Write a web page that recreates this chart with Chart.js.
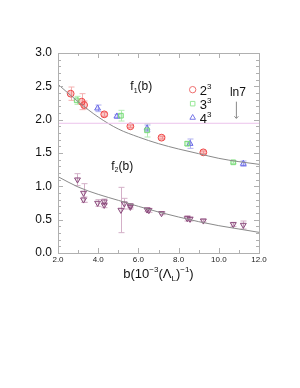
<!DOCTYPE html>
<html>
<head>
<meta charset="utf-8">
<script src="https://cdn.jsdelivr.net/npm/chart.js@4"></script>
<style>
  html, body { margin: 0; padding: 0; background: #fff; }
  #wrap { width: 300px; height: 388px; }
</style>
</head>
<body>
<div id="wrap"><canvas id="chart" width="300" height="388"></canvas></div>
<script>
// f1(b) data, by lattice size
const red_b   = [2.63, 3.18, 3.30, 4.30, 5.60, 7.15, 9.23];
const red_f1  = [2.39, 2.27, 2.22, 2.08, 1.90, 1.73, 1.51];
const red_err = [0.10, 0.12, 0.06, 0.03, 0.02, 0.02, 0.02];

const green_b   = [2.93, 5.13, 6.43, 8.43, 10.72];
const green_f1  = [2.29, 2.06, 1.84, 1.64, 1.36];
const green_err = [0.06, 0.08, 0.10, 0.03, 0.02];

const blue_b   = [3.97, 4.93, 6.43, 8.57, 11.22];
const blue_f1  = [2.17, 2.05, 1.87, 1.64, 1.34];
const blue_err = [0.05, 0.03, 0.05, 0.07, 0.04];

// f2(b) data
const f2_b   = [2.97, 3.27, 3.27, 3.97, 4.30, 4.30, 5.13, 5.30, 5.60, 5.60, 6.43, 6.52, 7.15, 8.43, 8.57, 9.23, 10.72, 11.22];
const f2_val = [1.10, 0.90, 0.80, 0.75, 0.77, 0.72, 0.645, 0.74, 0.71, 0.69, 0.65, 0.64, 0.595, 0.52, 0.51, 0.485, 0.43, 0.42];
const f2_err = [0.09, 0.14, 0.04, 0.05, 0.04, 0.04, 0.34, 0.08, 0.03, 0.03, 0.03, 0.03, 0.02, 0.04, 0.03, 0.02, 0.03, 0.06];

// fitted curves
const fit_b  = [2, 3, 4, 5, 6, 7, 8, 9, 10, 11, 12];
const fit_f1 = [2.53, 2.27, 2.04, 1.86, 1.74, 1.64, 1.56, 1.49, 1.42, 1.37, 1.33];
const fit_f2 = [1.145, 0.99, 0.88, 0.79, 0.70, 0.615, 0.54, 0.47, 0.41, 0.36, 0.31];

const LN7 = 1.946;
const xTicks = [2, 4, 6, 8, 10, 12];
const yTicks = [0, 0.5, 1.0, 1.5, 2.0, 2.5, 3.0];

const FONT = '"Liberation Sans", Arial, Helvetica, sans-serif';

function pts(xs, ys, errs) {
    return xs.map((x, i) => ({ x: x, y: ys[i], e: errs ? errs[i] : 0 }));
}

function pointSet(label, xs, ys, errs, style, color, fill, errColor, rot) {
    return {
        type: 'scatter',
        label: label,
        data: pts(xs, ys, errs),
        pointStyle: style,
        rotation: rot || 0,
        pointRadius: style === 'rect' ? 3.3 : 3.4,
        borderColor: color,
        backgroundColor: fill,
        pointBorderWidth: 1,
        errColor: errColor,
        showLine: false
    };
}

// error bars, drawn under the markers
const errorBars = {
    id: 'errorBars',
    beforeDatasetsDraw(chart) {
        const ctx = chart.ctx;
        const xs = chart.scales.x, ys = chart.scales.y;
        chart.data.datasets.forEach(ds => {
            if (!ds.errColor) return;
            ctx.save();
            ctx.strokeStyle = ds.errColor;
            ctx.lineWidth = 1;
            ds.data.forEach(p => {
                if (!p.e) return;
                const px = Math.round(xs.getPixelForValue(p.x)) + 0.5;
                const top = ys.getPixelForValue(p.y + p.e);
                const bot = ys.getPixelForValue(p.y - p.e);
                ctx.beginPath();
                ctx.moveTo(px, top); ctx.lineTo(px, bot);
                ctx.moveTo(px - 3, top); ctx.lineTo(px + 3, top);
                ctx.moveTo(px - 3, bot); ctx.lineTo(px + 3, bot);
                ctx.stroke();
            });
            ctx.restore();
        });
    }
};

function textWithScripts(ctx, parts, x, y, size, align) {
    // parts: [text, kind] kind: '' normal, 'sup', 'sub'
    const small = Math.round(size * 0.62);
    let total = 0;
    parts.forEach(p => {
        ctx.font = (p[1] ? small : size) + 'px ' + FONT;
        total += ctx.measureText(p[0]).width;
    });
    let cx = align === 'center' ? x - total / 2 : x;
    ctx.textAlign = 'left';
    ctx.textBaseline = 'alphabetic';
    parts.forEach(p => {
        ctx.font = (p[1] ? small : size) + 'px ' + FONT;
        let dy = 0;
        if (p[1] === 'sup') dy = -size * 0.45;
        if (p[1] === 'sub') dy = size * 0.22;
        ctx.fillText(p[0], cx, y + dy);
        cx += ctx.measureText(p[0]).width;
    });
}

const decorations = {
    id: 'decorations',
    beforeDraw(chart) {
        const ctx = chart.ctx;
        ctx.save();
        ctx.fillStyle = '#fff';
        ctx.fillRect(0, 0, chart.width, chart.height);
        ctx.restore();
    },
    afterDraw(chart) {
        const ctx = chart.ctx;
        const a = chart.chartArea;
        const xs = chart.scales.x, ys = chart.scales.y;
        ctx.save();

        // frame
        ctx.strokeStyle = '#b0b0b0';
        ctx.lineWidth = 1;
        ctx.strokeRect(a.left + 0.5, a.top + 0.5, a.right - a.left, a.bottom - a.top);

        // inward ticks
        ctx.beginPath();
        for (let v = 2; v <= 12; v += 1) {
            const px = Math.round(xs.getPixelForValue(v)) + 0.5;
            const len = v % 2 === 0 ? 5 : 3;
            ctx.moveTo(px, a.bottom); ctx.lineTo(px, a.bottom - len);
            ctx.moveTo(px, a.top); ctx.lineTo(px, a.top + len);
        }
        for (let i = 0; i <= 30; i++) {
            const v = i / 10;
            const py = Math.round(ys.getPixelForValue(v)) + 0.5;
            const len = i % 5 === 0 ? 5 : 3;
            ctx.moveTo(a.left, py); ctx.lineTo(a.left + len, py);
            ctx.moveTo(a.right, py); ctx.lineTo(a.right - len, py);
        }
        ctx.stroke();

        ctx.fillStyle = '#111';
        // curve labels
        textWithScripts(ctx, [['f', ''], ['1', 'sub'], ['(b)', '']], xs.getPixelForValue(5.6), ys.getPixelForValue(2.44), 12, 'left');
        textWithScripts(ctx, [['f', ''], ['2', 'sub'], ['(b)', '']], xs.getPixelForValue(4.65), ys.getPixelForValue(1.25), 12, 'left');

        // legend
        const lx = xs.getPixelForValue(8.7);
        const legend = [
            ['2', 'circle', '#f07070', 2.45],
            ['3', 'rect', '#98e898', 2.24],
            ['4', 'triangle', '#7878e8', 2.03]
        ];
        legend.forEach(l => {
            const ly = ys.getPixelForValue(l[3]);
            ctx.save();
            ctx.strokeStyle = l[2];
            ctx.fillStyle = 'rgba(0,0,0,0)';
            ctx.lineWidth = 1;
            Chart.helpers.drawPoint(ctx, { pointStyle: l[1], radius: 3.2, rotation: 0, borderWidth: 1 }, lx, ly);
            ctx.restore();
            ctx.fillStyle = '#111';
            textWithScripts(ctx, [[l[0], ''], ['3', 'sup']], lx + 7, ly + 5, 13, 'left');
        });

        // ln7 marker
        const ax = xs.getPixelForValue(10.85);
        ctx.fillStyle = '#111';
        ctx.font = '12px ' + FONT;
        ctx.textAlign = 'center';
        ctx.textBaseline = 'alphabetic';
        ctx.fillText('ln7', ax + 2, ys.getPixelForValue(2.36));
        ctx.strokeStyle = '#888';
        ctx.beginPath();
        ctx.moveTo(ax + 0.5, ys.getPixelForValue(2.27));
        ctx.lineTo(ax + 0.5, ys.getPixelForValue(2.02));
        ctx.stroke();
        ctx.beginPath();
        ctx.moveTo(ax - 1.5, ys.getPixelForValue(2.05));
        ctx.lineTo(ax + 0.5, ys.getPixelForValue(2.02));
        ctx.lineTo(ax + 2.5, ys.getPixelForValue(2.05));
        ctx.stroke();

        // x axis title
        ctx.fillStyle = '#111';
        textWithScripts(ctx, [['b(10', ''], ['\u22123', 'sup'], ['(\u039B', ''], ['L', 'sub'], [')', ''], ['\u22121', 'sup'], [')', '']],
            (a.left + a.right) / 2, a.bottom + 25, 13, 'center');

        ctx.restore();
    }
};

const datasets = [
    {
        type: 'line', label: 'ln7',
        data: [{ x: 2, y: LN7 }, { x: 12, y: LN7 }],
        borderColor: '#ecc4ec', borderWidth: 1, pointRadius: 0
    },
    {
        type: 'line', label: 'fit f1',
        data: pts(fit_b, fit_f1),
        borderColor: '#8a8a8a', borderWidth: 1, pointRadius: 0,
        cubicInterpolationMode: 'monotone'
    },
    {
        type: 'line', label: 'fit f2',
        data: pts(fit_b, fit_f2),
        borderColor: '#8a8a8a', borderWidth: 1, pointRadius: 0,
        cubicInterpolationMode: 'monotone'
    },
    pointSet('3^3', green_b, green_f1, green_err, 'rect', '#78dc78', 'rgba(128,224,128,0.25)', '#b4ecb4'),
    pointSet('4^3', blue_b, blue_f1, blue_err, 'triangle', '#6a6ae8', 'rgba(106,106,232,0.2)', '#b0b0f0'),
    pointSet('2^3', red_b, red_f1, red_err, 'circle', '#f04848', 'rgba(240,72,72,0.3)', '#f4b0b0'),
    pointSet('f2', f2_b, f2_val, f2_err, 'triangle', '#8a4a7c', 'rgba(138,74,124,0.15)', '#d4b0c8', 180)
];

new Chart(document.getElementById('chart'), {
    type: 'scatter',
    data: { datasets: datasets },
    options: {
        responsive: false,
        animation: false,
        events: [],
        layout: { padding: { top: 53, right: 41, left: 0, bottom: 115 } },
        plugins: { legend: { display: false }, tooltip: { enabled: false } },
        scales: {
            x: {
                type: 'linear', min: 2, max: 12,
                afterFit: s => { s.height = 20; },
                afterBuildTicks: s => { s.ticks = xTicks.map(v => ({ value: v })); },
                grid: { display: false, drawTicks: false },
                border: { display: false },
                ticks: {
                    padding: 2,
                    color: '#222',
                    font: { size: 8, family: FONT },
                    maxRotation: 0,
                    callback: v => v.toFixed(1)
                }
            },
            y: {
                type: 'linear', min: 0, max: 3,
                afterFit: s => { s.width = 58; },
                afterBuildTicks: s => { s.ticks = yTicks.map(v => ({ value: v })); },
                grid: { display: false, drawTicks: false },
                border: { display: false },
                ticks: {
                    padding: 6,
                    color: '#111',
                    font: { size: 12, family: FONT },
                    callback: v => v.toFixed(1)
                }
            }
        }
    },
    plugins: [errorBars, decorations]
});
</script>
</body>
</html>
